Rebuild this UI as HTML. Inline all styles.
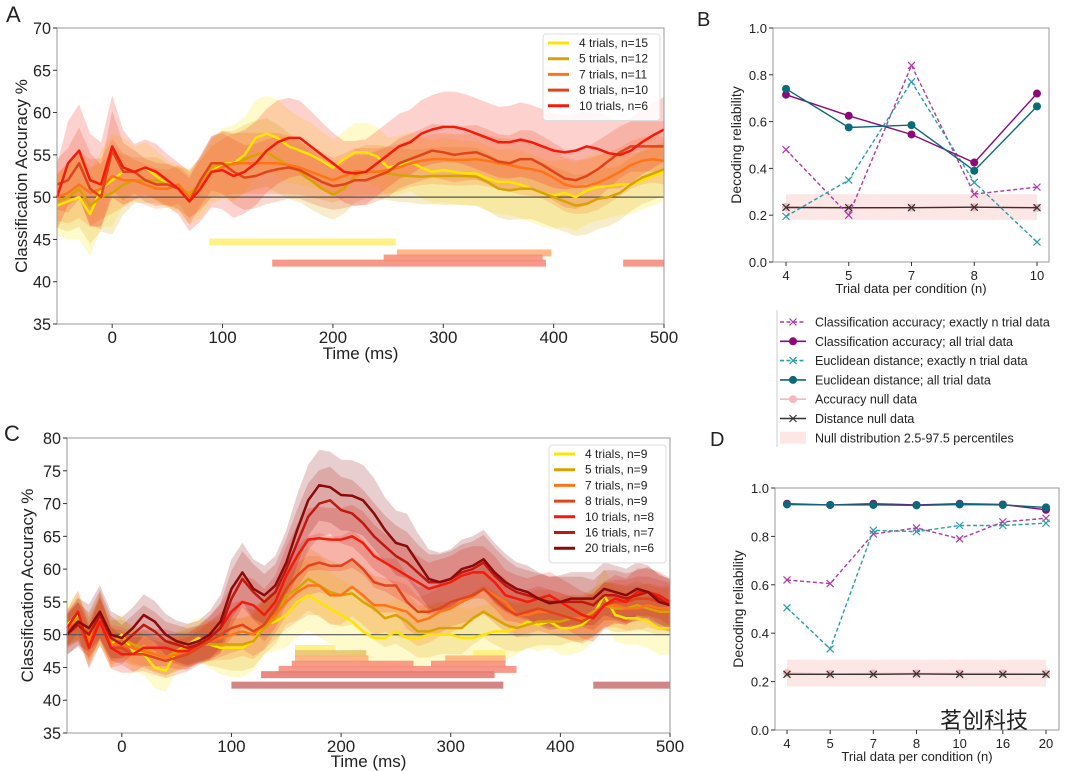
<!DOCTYPE html>
<html><head><meta charset="utf-8"><style>
html,body{margin:0;padding:0;background:#fff}
svg{display:block}
text{font-family:"Liberation Sans","Noto Sans CJK SC",sans-serif;fill:#222}
</style></head><body>
<svg id="fig" width="1080" height="771" viewBox="0 0 1080 771" xmlns="http://www.w3.org/2000/svg">
<text x="6" y="22" font-size="22">A</text>
<text x="697" y="26" font-size="20">B</text>
<text x="4" y="441" font-size="22">C</text>
<text x="710" y="446" font-size="20">D</text>
</svg>
<script>
// ---------- Panel A data ----------
const timesA = [-50,-40,-30,-20,-10,0,10,20,30,40,50,60,70,80,90,100,110,120,130,140,150,160,170,180,190,200,210,220,230,240,250,260,270,280,290,300,310,320,330,340,350,360,370,380,390,400,410,420,430,440,450,460,470,480,490,500];
const aLabels = ["4 trials, n=15","5 trials, n=12","7 trials, n=11","8 trials, n=10","10 trials, n=6"];
const a4 = [49,49.5,50,48,51,52,53,53,53.5,52.5,51.5,51,50,51,53,54,54,55,57,57.5,57,56,55.5,55,54.3,53.5,54.5,55.3,55.3,54.8,53.5,53.8,54.2,53.5,53,53.2,53,52.8,52.8,52.2,51.8,51.8,51.5,51,50.5,50.2,50.5,50,50.8,51.2,51.3,51.5,51.5,52,52.5,53];
const a5 = [49.5,50,51,49,50,50.5,51.5,52,52,52,51.5,51,50.5,51.5,53.5,54,53.8,54.5,55,55.3,54.5,53.7,53,52,51,50.3,51,52.5,53,53,52.8,52.6,52.5,52.4,52.5,52.5,52.5,52.5,52.4,51.8,51,50.8,51,51,50.5,50,49.5,49,49.2,49.8,50,50.5,51.5,52.3,52.8,53.3];
const a7 = [50,50.5,51.5,50.5,51,52.5,52,52,51.5,51,51,51.5,50,51.5,53,53.5,54,54,54,54,54,53.8,53.5,53,52.5,52,52.5,53,53,53,53.2,53.5,54,54.3,54.5,54.5,54.4,54.4,54.5,54.3,54,53.8,53.5,53.3,53,52.3,51.5,51.2,51.3,51.7,52.3,53,53.8,54.3,54.5,54.3];
const a8 = [51.5,52,54,51,50,55.5,53,53,52,51.5,51.5,51,49.5,52,54,54,53,52.3,52.5,53,53.3,53.5,53.2,52.5,51.8,51.3,51.5,52,52,52.5,53,54,54.5,55,55.5,55.3,55,55.2,55.3,54.8,54.2,54,54.5,54.5,53.8,53,52.2,52,52.5,53.3,54.3,55.3,56,56,56,56];
const a10 = [50,54,55.5,52,51.5,56,53.5,53,53.5,53,52,51,49.5,51,53,53.2,52.5,53,54,55.5,56.5,57,57,56,55,54,53,52.8,53,54,55,56,56.5,57.5,58,58.3,58.3,58,57.5,57,56.5,56.5,56.8,56.5,56,55.5,55.3,55.5,56,55.7,55.2,55,55.5,56.5,57.3,58];
const semA = [3.5,4.5,5,5,4.5,5.5,4,3,3,3,2.8,2.8,3.2,3.5,3.8,4.2,4.5,4.5,4.5,4.5,4.5,4.3,4,3.8,3.5,3.3,3.3,3.5,3.5,3.5,3.5,3.5,3.5,3.6,3.7,3.8,3.8,3.8,3.8,3.8,3.8,3.9,4,4,4,4,4,4,4,4,3.8,3.6,3.5,3.5,3.5,3.5];
const barsA_start = [88,258,246,145,463];
const barsA_end = [257,398,390,393,500];
const barsA_level = [44.7,43.4,42.8,42.2,42.2];
const barsA_series = [0,2,3,4,4];

// ---------- Panel C data ----------
const timesC = timesA;
const cLabels = ["4 trials, n=9","5 trials, n=9","7 trials, n=9","8 trials, n=9","10 trials, n=8","16 trials, n=7","20 trials, n=6"];
const c4 = [51.5,53,49,52.5,48.5,50,47.5,47,45,44.5,47.5,48.5,49.5,48.5,48,48,48,49,51.5,52,53,55,56,55,54,53,52,50.5,49.5,49.5,50.5,49.5,49.5,50,50,50,49.5,49.5,50,50.5,50.5,51,52,51.5,52,51,51,51.5,53,56,53,52.5,52.5,52,51,51];
const c5 = [51,52.5,49.5,52,49,49.5,48.5,48,47,46.5,47.5,48,48.5,48.5,48.5,48.5,48.5,49,51,52.5,56,57,58.5,57.5,56.5,56,56.3,55,54,52.5,53,52,50.5,50.5,51,51,51,52.5,53.5,52.5,51.5,51,51.5,52,52,52,52.5,52.5,53.5,54.5,54,54,54.5,54,53.5,53.5];
const c7 = [51,52,49,52.5,48.5,48.5,48,47.5,47,46.5,47,47.5,48.5,49,49.5,50,50.5,50,51.5,53,55,56.5,57.5,57.5,56,56,57.3,56,54.5,54.5,54,53.5,52,52.5,53.5,54,55,55.8,57,56,55,53,53,53.5,53.5,53,52.5,52.5,53,54.5,54.5,54,54,54.5,54,54];
const c8 = [50.5,52,48,53,48,48,47,47,46.5,46,46.5,47,48,49,50,51,51.5,50.5,51.5,54,57,59,60.5,61,60.5,60.5,61.5,60,58,57.5,57.5,55,53.5,53.5,54,55,55.5,56,57,55.5,54,53,53.5,54,53.5,53,52.5,52,53,54.5,55,55,55.5,55.5,55,54.5];
const c10 = [51,53.5,48,52,48,47,47,48,48,48,47.5,47.5,48.5,49.5,51,53.5,55,54.5,53,55,59,62,64.5,64.7,64.5,64.5,65,64,62,61,60,59,58,57,57.5,58,59,59.5,59.5,58,56,55.5,55,55.5,56,55,54,53,52.5,54.5,55.5,55,56.5,56.5,56,55];
const c16 = [50,51.5,50,53,49.5,48.5,50,51.5,50.5,49,48.5,48,48.5,49.5,51,55.5,58.5,56.5,55,56.5,60,64,68,70,70.5,69,68.5,67,65,63.5,62,61,59.5,58,58,58.5,59.5,60,61,59,57.5,56.5,56,55.5,55,55,55,55,54.5,56,56,55.5,56,56.5,55.5,54.5];
const c20 = [50,52,51,53.5,50,49.5,51,53,52,50,49,48.5,49,50,52,57,59.5,57,56,57.5,61,66,70.5,72.8,72.5,71.3,71.2,70.5,68.5,66,64,63.5,61,58.5,58,58.5,60,60.5,61.5,59.5,58,57,56.5,55.5,54.8,55,55.5,55.5,55.5,57,56.5,56,57,56.5,55,54.5];
const semC = [3.5,4,4,4.5,4,3.5,3.5,3.5,3.5,3.5,3.5,3.5,3.5,4,4.5,5,5,5,5,5,5.5,6,6,6,6,6,6,6,6,5.5,5.5,5.5,5,5,5,5,5,5,5,5,4.8,4.5,4.5,4.5,4.5,4.5,4.5,4.5,4.5,4.5,4.5,4.5,4.5,4.5,4.5,4.5];
const barsC_start = [158,320,158,158,295,155,282,143,127,100,430];
const barsC_end = [195,350,223,225,350,266,350,360,340,348,500];
const barsC_level = [47.9,47.1,47.1,46.3,46.3,45.5,45.5,44.7,43.9,42.3,42.3];
const barsC_series = [0,0,1,2,2,3,3,4,5,6,6];

// ---------- Panel B data ----------
const catsB = ["4","5","7","8","10"];
const bAccExact = [0.48,0.20,0.84,0.29,0.32];
const bAccAll = [0.715,0.625,0.545,0.425,0.72];
const bEucExact = [0.195,0.35,0.77,0.34,0.085];
const bEucAll = [0.74,0.575,0.585,0.39,0.665];
const bAccNull = [0.235,0.23,0.232,0.234,0.232];
const bDistNull = [0.233,0.232,0.232,0.234,0.232];
const bNullBand = [0.18,0.29];

// ---------- Panel D data ----------
const catsD = ["4","5","7","8","10","16","20"];
const dAccExact = [0.62,0.605,0.81,0.835,0.79,0.86,0.875];
const dAccAll = [0.935,0.93,0.935,0.93,0.935,0.932,0.91];
const dEucExact = [0.505,0.335,0.825,0.82,0.845,0.845,0.855];
const dEucAll = [0.932,0.93,0.93,0.928,0.932,0.93,0.92];
const dAccNull = [0.235,0.232,0.234,0.234,0.234,0.234,0.232];
const dDistNull = [0.23,0.23,0.23,0.232,0.23,0.23,0.23];
const dNullBand = [0.18,0.29];

const yTicksTS_A = [35,40,45,50,55,60,65,70];
const yTicksTS_C = [35,40,45,50,55,60,65,70,75,80];
const xTicksTS = [0,100,200,300,400,500];
const yTicksRel = [0.0,0.2,0.4,0.6,0.8,1.0];

const colorsTS = ["#ffe400","#d8a300","#ff7417","#e0441a","#f41a0c","#c01810","#8a0a0a"];
const barColors = ["#fff07a","#e9c46a","#ffb07a","#f5917a","#f78d7d","#e77b72","#cd7874"];

const NS = "http://www.w3.org/2000/svg";
const svg = document.getElementById('fig');
function el(tag, attrs, parent){
  const e = document.createElementNS(NS, tag);
  for (const k in attrs) e.setAttribute(k, attrs[k]);
  (parent||svg).appendChild(e);
  return e;
}
function txt(x,y,s,size,anchor,parent,extra){
  const t = el('text',Object.assign({x:x,y:y,'font-size':size,'text-anchor':anchor||'start'},extra||{}),parent);
  t.textContent = s;
  return t;
}

function drawTS(cfg){
  const g = el('g',{});
  
  
  const X = t => cfg.x0 + (t - (-50)) / 550 * (cfg.x1 - cfg.x0);
  const Y = v => cfg.y1 - (v - cfg.ymin) / (cfg.ymax - cfg.ymin) * (cfg.y1 - cfg.y0);
  cfg.series.forEach((s,i)=>{
    let top = '', bot = '';
    s.forEach((v,j)=>{ top += (j?'L':'M') + X(cfg.times[j]).toFixed(1) + ',' + Y(v + cfg.sem[j]*cfg.semScale[i]).toFixed(1); });
    for (let j=s.length-1;j>=0;j--) bot += 'L' + X(cfg.times[j]).toFixed(1) + ',' + Y(s[j] - cfg.sem[j]*cfg.semScale[i]).toFixed(1);
    const p = el('path',{d: top+bot+'Z', fill: cfg.colors[i], 'fill-opacity': 0.2, stroke:'none'}, g);
    
    
  });
  const cl = el('line',{x1:cfg.x0,x2:cfg.x1,y1:Y(50),y2:Y(50),stroke:'#555','stroke-width':1.2},g);
  
  
  cfg.series.forEach((s,i)=>{
    let d='';
    s.forEach((v,j)=>{ d += (j?'L':'M') + X(cfg.times[j]).toFixed(1) + ',' + Y(v).toFixed(1); });
    const p = el('path',{d:d, fill:'none', stroke:cfg.colors[i], 'stroke-width':2.5,'stroke-linejoin':'round'}, g);
    
    
  });
  cfg.barsStart.forEach((b,k)=>{
    const r = el('rect',{x:X(b), y:Y(cfg.barsLevel[k])-3.5, width:X(cfg.barsEnd[k])-X(b), height:7, fill:cfg.barColors[cfg.barsSeries[k]], 'fill-opacity':0.9}, g);
    
    
  });
  const fr = el('rect',{x:cfg.x0,y:cfg.y0,width:cfg.x1-cfg.x0,height:cfg.y1-cfg.y0,fill:'none',stroke:'#999','stroke-width':1},g);
  
  
  cfg.yTicks.forEach(v=>{
    el('line',{x1:cfg.x0-4,x2:cfg.x0,y1:Y(v),y2:Y(v),stroke:'#333'},g);
    const t = txt(cfg.x0-6, Y(v)+6, String(v), 17, 'end', g, {'textLength':18,'lengthAdjust':'spacingAndGlyphs'});
    
    
  });
  cfg.xTicks.forEach(v=>{
    el('line',{x1:X(v),x2:X(v),y1:cfg.y1,y2:cfg.y1+4,stroke:'#333'},g);
    const t = txt(X(v), cfg.y1+19, String(v), 17, 'middle', g);
    
    
  });
  const xt = txt((cfg.x0+cfg.x1)/2, cfg.y1+cfg.xTitleOff, 'Time (ms)', 17, 'middle', g);
  
  
  const yt = txt(0,0,'Classification Accuracy %',17,'middle',g,{transform:'translate('+(cfg.yTitleX)+','+((cfg.y0+cfg.y1)/2)+') rotate(-90)'});
  
  
  const lg = el('g',{},g);
  
  
  el('rect',{x:cfg.lx,y:cfg.ly,width:cfg.lw,height:cfg.labels.length*15.7+8,fill:'#fff','fill-opacity':0.85,stroke:'#ddd',rx:3},lg);
  cfg.labels.forEach((s,i)=>{
    const yy = cfg.ly + 9 + i*15.7;
    el('line',{x1:cfg.lx+5,x2:cfg.lx+26,y1:yy,y2:yy,stroke:cfg.colors[i],'stroke-width':3},lg);
    const t = txt(cfg.lx+36, yy+4, s, 12, 'start', lg);
    
    
  });
}

drawTS({name:'panel-a-chart', times:timesA, series:[a4,a5,a7,a8,a10], sem:semA, semScale:[1,0.9,0.8,0.85,1.1],
  colors:colorsTS.slice(0,5), barColors:barColors.slice(0,5),
  x0:57,x1:664,y0:28,y1:324,ymin:35,ymax:70,yTicks:yTicksTS_A,xTicks:xTicksTS,yTitleX:27,xTitleOff:35,
  barsStart:barsA_start,barsEnd:barsA_end,barsLevel:barsA_level,barsSeries:barsA_series,
  labels:aLabels,lx:543,ly:34,lw:117});
drawTS({name:'panel-c-chart', times:timesC, series:[c4,c5,c7,c8,c10,c16,c20], sem:semC, semScale:[0.9,0.8,0.75,0.75,0.8,0.85,0.9],
  colors:colorsTS, barColors:barColors,
  x0:67,x1:670,y0:438,y1:733,ymin:35,ymax:80,yTicks:yTicksTS_C,xTicks:xTicksTS,yTitleX:33,xTitleOff:34,
  barsStart:barsC_start,barsEnd:barsC_end,barsLevel:barsC_level,barsSeries:barsC_series,
  labels:cLabels,lx:549,ly:445,lw:117});

function drawRel(cfg){
  const g = el('g',{});
  
  
  const n = cfg.cats.length;
  const X = i => cfg.xa + i/(n-1)*(cfg.xb-cfg.xa);
  const Y = v => cfg.y1 - v*(cfg.y1-cfg.y0);
  const band = el('rect',{x:X(0),y:Y(cfg.band[1]),width:X(n-1)-X(0),height:Y(cfg.band[0])-Y(cfg.band[1]),fill:'#fde6e6'},g);
  
  
  function series(vals,color,dash,marker,name){
    const sg = el('g',{},g);
    
    
    let d='';
    vals.forEach((v,i)=>{ d += (i?'L':'M')+X(i).toFixed(1)+','+Y(v).toFixed(1); });
    el('path',{d:d,fill:'none',stroke:color,'stroke-width':1.4,'stroke-dasharray':dash?'4,2.5':'none'},sg);
    vals.forEach((v,i)=>{
      if(marker==='o') el('circle',{cx:X(i),cy:Y(v),r:4,fill:color},sg);
      else { const x=X(i),y=Y(v);
        el('path',{d:`M${x-3.5},${y-3.5}L${x+3.5},${y+3.5}M${x-3.5},${y+3.5}L${x+3.5},${y-3.5}`,stroke:color,'stroke-width':1.2},sg); }
    });
  }
  series(cfg.accNull,'#f6b8bd',false,'o','accuracy-null-series');
  series(cfg.distNull,'#333',false,'x','distance-null-series');
  series(cfg.accExact,'#b03aa8',true,'x','accuracy-exact-series');
  series(cfg.eucExact,'#2a9ea8',true,'x','euclidean-exact-series');
  series(cfg.accAll,'#8b0a7a',false,'o','accuracy-all-series');
  series(cfg.eucAll,'#0b6a78',false,'o','euclidean-all-series');
  const fr = el('rect',{x:cfg.x0,y:cfg.y0,width:cfg.x1-cfg.x0,height:cfg.y1-cfg.y0,fill:'none',stroke:'#999'},g);
  
  
  cfg.yTicks.forEach(v=>{
    el('line',{x1:cfg.x0-4,x2:cfg.x0,y1:Y(v),y2:Y(v),stroke:'#333'},g);
    const t = txt(cfg.x0-6,Y(v)+5,v.toFixed(1),13,'end',g);
    
    
  });
  cfg.cats.forEach((c,i)=>{
    el('line',{x1:X(i),x2:X(i),y1:cfg.y1,y2:cfg.y1+4,stroke:'#333'},g);
    const t = txt(X(i),cfg.y1+18,c,13,'middle',g);
    
    
  });
  const xt = txt((cfg.x0+cfg.x1)/2,cfg.y1+31,'Trial data per condition (n)',13,'middle',g);
  
  
  const yt = txt(0,0,'Decoding reliability',14,'middle',g,{transform:'translate('+(cfg.x0-32)+','+((cfg.y0+cfg.y1)/2)+') rotate(-90)'});
  
  
}
drawRel({name:'panel-b-chart',cats:catsB,accExact:bAccExact,accAll:bAccAll,eucExact:bEucExact,eucAll:bEucAll,accNull:bAccNull,distNull:bDistNull,band:bNullBand,
  x0:773,x1:1049,xa:786,xb:1037,y0:28,y1:262,yTicks:yTicksRel});
drawRel({name:'panel-d-chart',cats:catsD,accExact:dAccExact,accAll:dAccAll,eucExact:dEucExact,eucAll:dEucAll,accNull:dAccNull,distNull:dDistNull,band:dNullBand,
  x0:775,x1:1059,xa:787,xb:1046,y0:488,y1:730,yTicks:yTicksRel});

const lgd = el('g',{});


el('line',{x1:777,x2:777,y1:310,y2:447,stroke:'#ccc'},lgd);
const legLabels = ["Classification accuracy; exactly n trial data","Classification accuracy; all trial data","Euclidean distance; exactly n trial data","Euclidean distance; all trial data","Accuracy null data","Distance null data","Null distribution 2.5-97.5 percentiles"];
const legColors = ['#b03aa8','#8b0a7a','#2a9ea8','#0b6a78','#f6b8bd','#333','#fde6e6'];
const legTypes = ['dx','o','dx','o','o','x','band'];
legLabels.forEach((s,i)=>{
  const yy = 322 + i*19.3;
  const c = legColors[i];
  if (legTypes[i]==='band') el('rect',{x:780,y:yy-6,width:26,height:12,fill:c},lgd);
  else {
    el('line',{x1:780,x2:806,y1:yy,y2:yy,stroke:c,'stroke-width':1.6,'stroke-dasharray':legTypes[i]==='dx'?'4,2.5':'none'},lgd);
    if (legTypes[i]==='o') el('circle',{cx:793,cy:yy,r:4,fill:c},lgd);
    else el('path',{d:`M789.5,${yy-3.5}L796.5,${yy+3.5}M789.5,${yy+3.5}L796.5,${yy-3.5}`,stroke:c,'stroke-width':1.2},lgd);
  }
  const t = txt(815,yy+4.5,s,12.5,'start',lgd);
  
  
});
const wm = txt(940,728,'茗创科技',22,'start',svg,{fill:'#d8d8d8'});


</script>
</body></html>
